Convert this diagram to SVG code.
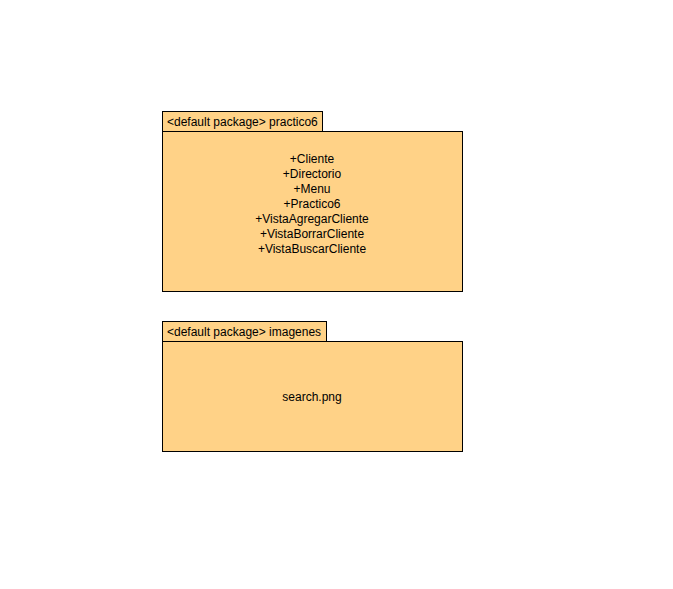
<svg xmlns="http://www.w3.org/2000/svg" width="673" height="589" viewBox="0 0 673 589">
<style>
.pk{fill:#FFD287;stroke:#000;stroke-width:1}
.t{font-family:"Liberation Sans",Arial,sans-serif;font-size:12px;fill:#000}
.c{text-anchor:middle}
</style>
<rect width="673" height="589" fill="#fff"/>
<g id="pkg-practico6">
<rect class="pk" x="162.5" y="111.5" width="160" height="20"/>
<rect class="pk" x="162.5" y="131.5" width="300" height="160"/>
<text class="t" x="167" y="126">&lt;default package&gt; practico6</text>
<text class="t c" x="312" y="163">+Cliente</text>
<text class="t c" x="312" y="178">+Directorio</text>
<text class="t c" x="312" y="193">+Menu</text>
<text class="t c" x="312" y="208">+Practico6</text>
<text class="t c" x="312" y="223">+VistaAgregarCliente</text>
<text class="t c" x="312" y="238">+VistaBorrarCliente</text>
<text class="t c" x="312" y="253">+VistaBuscarCliente</text>
</g>
<g id="pkg-imagenes">
<rect class="pk" x="162.5" y="321.5" width="164" height="20"/>
<rect class="pk" x="162.5" y="341.5" width="300" height="110"/>
<text class="t" x="167" y="336">&lt;default package&gt; imagenes</text>
<text class="t c" x="312" y="401">search.png</text>
</g>
<g id="connectors"></g>
</svg>
